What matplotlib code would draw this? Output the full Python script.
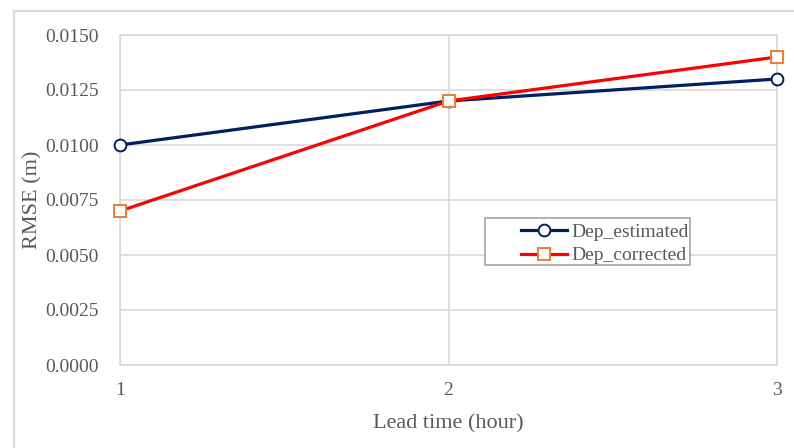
import matplotlib.pyplot as plt
from matplotlib.lines import Line2D
from matplotlib.patches import Rectangle

lead_time = [1, 2, 3]
dep_estimated = [0.0100, 0.0120, 0.0130]
dep_corrected = [0.0070, 0.0120, 0.0140]
y_ticks = [0.0, 0.0025, 0.0050, 0.0075, 0.0100, 0.0125, 0.0150]

plt.rcParams["font.family"] = ["Liberation Serif", "DejaVu Serif"]
text_color = "#595959"
grid_color = "#D9D9D9"

fig = plt.figure(figsize=(7.94, 4.48), dpi=100)
ax = fig.add_axes([120 / 794, 83 / 448, 657 / 794, 330 / 448])

ax.plot(lead_time, dep_estimated, color="#002060", linewidth=2.3,
        marker="o", markersize=8.5, markerfacecolor="white",
        markeredgecolor="#002060", markeredgewidth=1.4,
        label="Dep_estimated", zorder=3, clip_on=False)
ax.plot(lead_time, dep_corrected, color="#FF0000", linewidth=2.3,
        marker="s", markersize=8.5, markerfacecolor="white",
        markeredgecolor="#ED7D31", markeredgewidth=1.4,
        label="Dep_corrected", zorder=3, clip_on=False)

ax.set_xlim(1, 3)
ax.set_ylim(0, 0.015)
ax.set_xticks(lead_time)
ax.set_yticks(y_ticks)
ax.set_yticklabels([f"{v:.4f}" for v in y_ticks])
ax.tick_params(axis="both", length=0, labelsize=14, colors=text_color)
ax.tick_params(axis="y", pad=15.5)
ax.tick_params(axis="x", pad=12)
ax.grid(True, color=grid_color, linewidth=1.2)
ax.set_axisbelow(True)
for s in ax.spines.values():
    s.set_color(grid_color)
    s.set_linewidth(1.2)

ax.set_xlabel("Lead time (hour)", fontsize=16, color=text_color, labelpad=11)
ax.set_ylabel("RMSE (m)", fontsize=16, color=text_color, labelpad=2)

# legend box
ax.add_patch(Rectangle((0.556, 0.303), 0.312, 0.142, transform=ax.transAxes,
                       facecolor="white", edgecolor="#A6A6A6", linewidth=1.2,
                       zorder=4))
leg = ax.legend(loc="center left", bbox_to_anchor=(0.610, 0.367), frameon=False,
                fontsize=14, handlelength=2.4, handletextpad=0.2,
                labelspacing=0.3, borderpad=0, borderaxespad=0)
leg.set_zorder(5)
for t in leg.get_texts():
    t.set_color(text_color)

# chart area border (left and top visible)
fig.add_artist(Line2D([14 / 794, 14 / 794], [0, 1 - 11 / 448],
                      transform=fig.transFigure, color=grid_color, linewidth=1.5))
fig.add_artist(Line2D([14 / 794, 1], [1 - 11 / 448, 1 - 11 / 448],
                      transform=fig.transFigure, color=grid_color, linewidth=1.5))

fig.savefig("out.png", dpi=100)
plt.close(fig)
